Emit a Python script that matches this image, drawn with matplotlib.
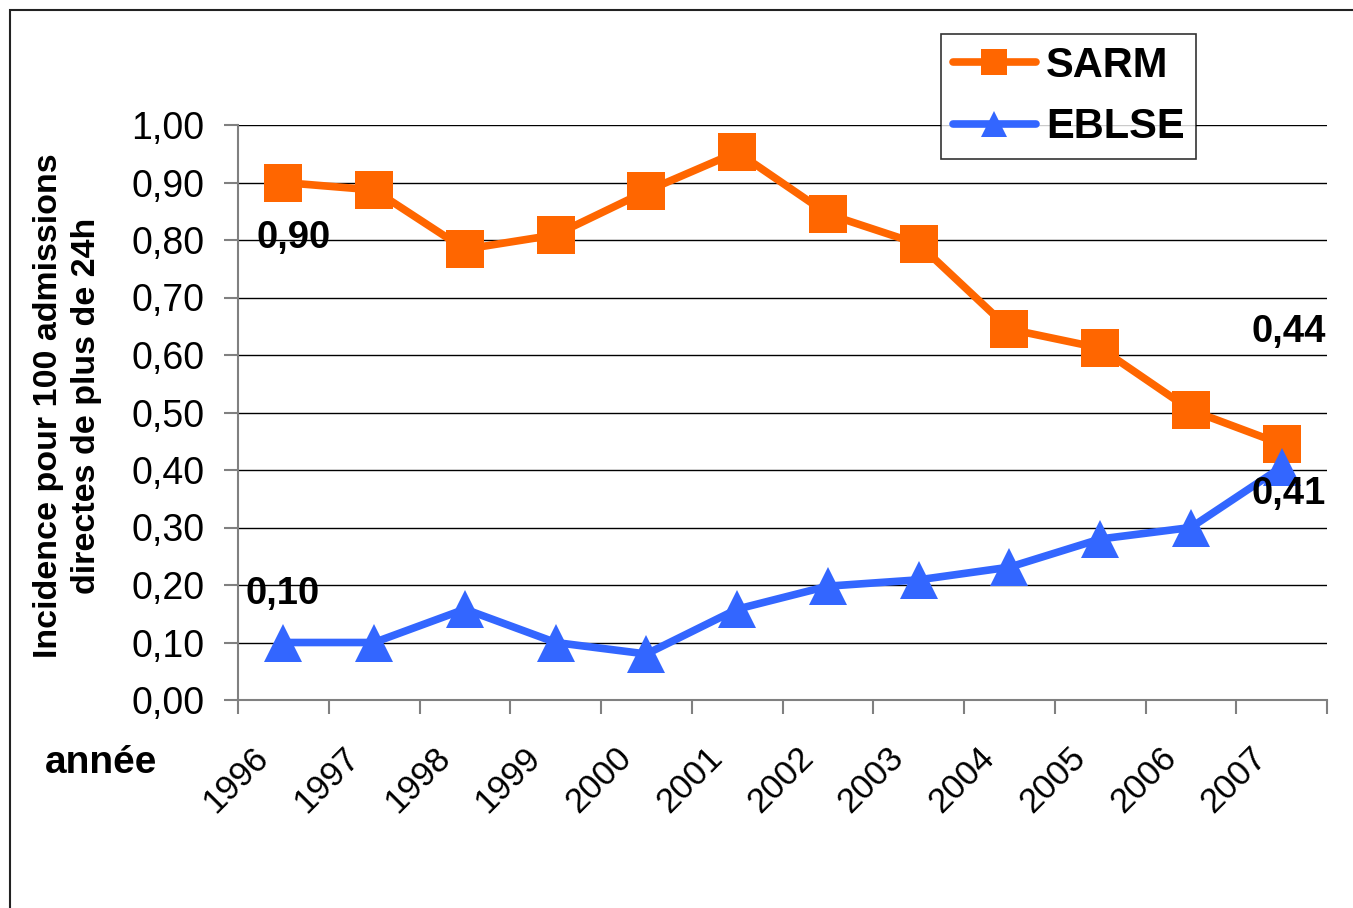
import matplotlib
matplotlib.use("Agg")
import matplotlib.pyplot as plt
import matplotlib.transforms as mtransforms
from matplotlib.patches import Rectangle

plt.rcParams['font.family'] = ['Liberation Sans', 'DejaVu Sans']

years = ['1996', '1997', '1998', '1999', '2000', '2001', '2002', '2003', '2004', '2005', '2006', '2007']
sarm = [0.90, 0.887, 0.784, 0.809, 0.885, 0.953, 0.845, 0.793, 0.645, 0.612, 0.504, 0.445]
eblse = [0.10, 0.10, 0.158, 0.10, 0.08, 0.158, 0.198, 0.209, 0.231, 0.28, 0.30, 0.405]
yticks = [0.0, 0.1, 0.2, 0.3, 0.4, 0.5, 0.6, 0.7, 0.8, 0.9, 1.0]

ORANGE = '#FF6600'
BLUE = '#3366FF'

W, H = 1353, 908
fig = plt.figure(figsize=(W / 100, H / 100), dpi=100)
ax = fig.add_axes([238 / W, 1 - 700 / H, (1327 - 238) / W, (700 - 125) / H])

x = [i + 0.5 for i in range(len(years))]
ax.plot(x, sarm, color=ORANGE, lw=5.5, marker='s', ms=27, mew=0, label='SARM',
        zorder=3, solid_capstyle='round')
ax.plot(x, eblse, color=BLUE, lw=5.5, marker='^', ms=27, mew=0, label='EBLSE',
        zorder=3, solid_capstyle='round')

ax.set_xlim(0, len(years))
ax.set_ylim(0, 1.0)
ax.set_yticks(yticks)
ax.set_yticklabels([f"{v:.2f}".replace('.', ',') for v in yticks], fontsize=27)
ax.yaxis.grid(True, color='black', lw=1)
ax.set_axisbelow(True)

# category labels at centers, tick marks at boundaries
ax.set_xticks(x)
ax.set_xticklabels(years, fontsize=25, rotation=45, ha='right', va='center',
                   rotation_mode='anchor')
ax.set_xticks(range(len(years) + 1), minor=True)
ax.tick_params(axis='x', which='major', length=0, pad=38)
ax.tick_params(axis='x', which='minor', length=10, color='#808080', width=1.5)
ax.tick_params(axis='y', length=10, color='#808080', width=1.5, pad=14)
offset = mtransforms.ScaledTranslation(-20 / 100, 0, fig.dpi_scale_trans)
for lbl in ax.get_xticklabels():
    lbl.set_transform(lbl.get_transform() + offset)

for s in ['top', 'right']:
    ax.spines[s].set_visible(False)
for s in ['left', 'bottom']:
    ax.spines[s].set_color('#808080')
    ax.spines[s].set_linewidth(1.5)

ax.set_ylabel('Incidence pour 100 admissions\ndirectes de plus de 24h', fontsize=24.5,
              fontweight='bold', linespacing=1.3)
ax.yaxis.set_label_coords(-0.125, 0.511)

fig.text(45 / W, 1 - 763 / H, 'année', fontsize=28, fontweight='bold', va='center')

# value annotations
ax.annotate('0,90', (x[0], sarm[0]), xytext=(-27, -55), textcoords='offset pixels',
            fontsize=27.5, fontweight='bold', va='center')
ax.annotate('0,10', (x[0], eblse[0]), xytext=(-38, 49), textcoords='offset pixels',
            fontsize=27.5, fontweight='bold', va='center')
ax.annotate('0,44', (x[-1], sarm[-1]), xytext=(-30, 112), textcoords='offset pixels',
            fontsize=27.5, fontweight='bold', va='center')
ax.annotate('0,41', (x[-1], eblse[-1]), xytext=(-30, -27), textcoords='offset pixels',
            fontsize=27.5, fontweight='bold', va='center')

leg = fig.legend(loc='upper left', bbox_to_anchor=(941 / W, 1 - 34 / H),
                 prop={'weight': 'bold', 'size': 30}, markerscale=0.72, handlelength=2.0,
                 frameon=True, fancybox=False, borderaxespad=0, borderpad=0.28,
                 handletextpad=0.24, labelspacing=0.52)
leg.get_frame().set_edgecolor('black')
leg.get_frame().set_linewidth(1.2)

fig.patches.append(Rectangle((10 / W, -0.1), 1.2, 1.1 - 10 / H, transform=fig.transFigure,
                             fill=False, edgecolor='#222222', lw=1.5, zorder=0))

fig.savefig('out.png', dpi=100)
